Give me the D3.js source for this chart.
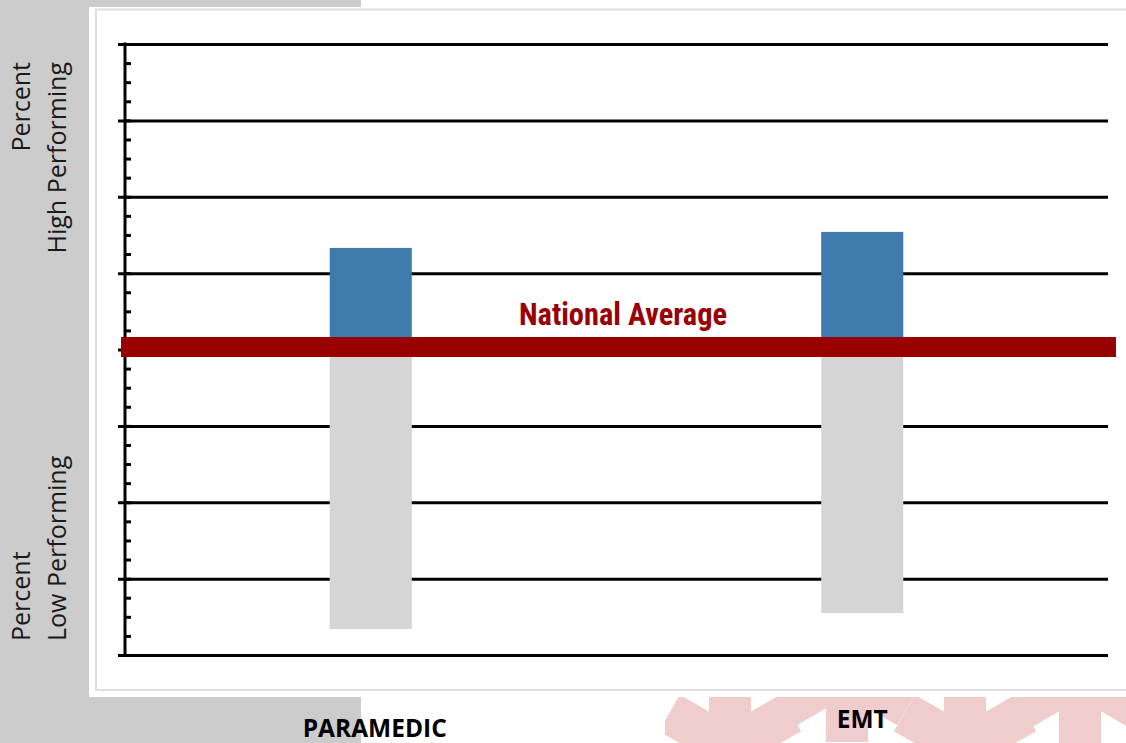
<!DOCTYPE html>
<html lang="en">
<head>
    <meta charset="UTF-8">
    <title>High vs Low Performing</title>
    <script src="https://d3js.org/d3.v7.min.js"></script>
    <style>
        body { margin: 0; background: #fff; }
        svg { display: block; }
    </style>
</head>
<body>
<div id="chart"></div>
<script>

//chart values
const categories = ["PARAMEDIC", "EMT"];
const highPerforming = [13.3, 15.4];   //percent above the national average
const lowPerforming = [36.6, 34.5];    //percent below it
const nationalAverage = 0;
const yTicks = [-40, -30, -20, -10, 0, 10, 20, 30, 40];

//pink star-of-life decoration in the bottom right corner
const decorStars = [[730, 748], [965, 748], [1200, 748], [847, 672], [1080, 675]];

const width = 1126, height = 743;

const svg = d3.select('#chart').append('svg')
    .attr('width', width)
    .attr('height', height);

//backgrounds
svg.append('rect').attr('width', width).attr('height', height).attr('fill', '#fff');
svg.append('rect').attr('width', 361).attr('height', height).attr('fill', '#cccccc');

//star decoration, clipped to the strip under the panel
svg.append('clipPath').attr('id', 'decor-clip')
    .append('rect').attr('x', 665).attr('y', 690).attr('width', 461).attr('height', 53);

const armLen = 70, armW = 42;
const decor = svg.append('g').attr('clip-path', 'url(#decor-clip)');
decorStars.forEach(([cx, cy]) => {
    [0, 60, 120].forEach(a => {
        decor.append('rect')
            .attr('x', -armW / 2).attr('y', -armLen)
            .attr('width', armW).attr('height', armLen * 2)
            .attr('fill', '#f0cdcd')
            .attr('transform', `translate(${cx},${cy}) rotate(${a})`);
    });
});

//white panel with its light border
svg.append('rect').attr('x', 89).attr('y', 7).attr('width', width - 89).attr('height', 690).attr('fill', '#fff');
svg.append('rect').attr('x', 96).attr('y', 9.5).attr('width', width).attr('height', 680.5)
    .attr('fill', 'none').attr('stroke', '#dedede').attr('stroke-width', 2);

const margin = {left: 125, right: 1108, top: 44, bottom: 655};

const x = d3.scaleBand()
    .domain(categories)
    .range([margin.left, margin.right])
    .paddingInner(0.833)
    .paddingOuter(0.4165);

const y = d3.scaleLinear()
    .domain([-40, 40])
    .range([margin.bottom, margin.top]);

//gridlines (they also make the major ticks left of the axis)
svg.append('g')
    .attr('transform', `translate(${margin.left - 7},0)`)
    .call(d3.axisRight(y).tickValues(yTicks).tickSize(margin.right - margin.left + 7).tickFormat(''))
    .call(g => g.select('.domain').remove())
    .call(g => g.selectAll('line').attr('stroke', '#000').attr('stroke-width', 3));

//minor ticks on the right of the axis
svg.append('g')
    .attr('transform', `translate(${margin.left},0)`)
    .call(d3.axisRight(y).tickValues(d3.range(-40, 40.1, 2.5)).tickSize(6).tickFormat(''))
    .call(g => g.select('.domain').remove())
    .call(g => g.selectAll('line').attr('stroke', '#000').attr('stroke-width', 3));

//axis line
svg.append('line')
    .attr('x1', margin.left).attr('x2', margin.left)
    .attr('y1', y(40) - 1.5).attr('y2', y(-40) + 1.5)
    .attr('stroke', '#000').attr('stroke-width', 3);

//low performing bars (grey, below the average)
svg.selectAll('.low').data(categories).join('rect')
    .attr('class', 'low')
    .attr('x', d => x(d))
    .attr('width', x.bandwidth())
    .attr('y', y(nationalAverage))
    .attr('height', (d, i) => y(-lowPerforming[i]) - y(nationalAverage))
    .attr('fill', '#d5d5d5');

//high performing bars (blue, above the average)
svg.selectAll('.high').data(categories).join('rect')
    .attr('class', 'high')
    .attr('x', d => x(d))
    .attr('width', x.bandwidth())
    .attr('y', (d, i) => y(highPerforming[i]))
    .attr('height', (d, i) => y(nationalAverage) - y(highPerforming[i]))
    .attr('fill', '#3e7aab');

//national average band
svg.append('rect')
    .attr('x', margin.left - 4).attr('width', 1116 - margin.left + 4)
    .attr('y', y(nationalAverage) - 12.5).attr('height', 20)
    .attr('fill', '#990000');

svg.append('text')
    .attr('x', 623).attr('y', y(nationalAverage) - 24.5)
    .attr('text-anchor', 'middle')
    .attr('textLength', 208).attr('lengthAdjust', 'spacingAndGlyphs')
    .style('font-family', '"Liberation Sans Narrow", "Roboto Condensed", "Liberation Sans", sans-serif')
    .style('font-weight', 'bold')
    .style('font-size', '32px')
    .attr('fill', '#990000')
    .text('National Average');

//category labels
const labelY = [737, 728];
svg.selectAll('.cat').data(categories).join('text')
    .attr('class', 'cat')
    .attr('x', (d, i) => x(d) + x.bandwidth() / 2 + (i === 0 ? 4 : 0))
    .attr('y', (d, i) => labelY[i])
    .attr('text-anchor', 'middle')
    .style('font-family', '"Open Sans", sans-serif')
    .style('font-weight', 'bold')
    .style('font-size', '24.5px')
    .attr('fill', '#000')
    .text(d => d);

//y axis titles
const titleFont = g => g.style('font-family', '"Open Sans", sans-serif').style('font-size', '25px').attr('fill', '#1a1a1a');

const topTitle = svg.append('g').call(titleFont);
[['Percent', 30], ['High Performing', 66]].forEach(([t, bx]) => {
    topTitle.append('text')
        .attr('transform', `translate(${bx},62) rotate(-90)`)
        .attr('text-anchor', 'end')
        .text(t);
});

const bottomTitle = svg.append('g').call(titleFont);
[['Percent', 30], ['Low Performing', 66]].forEach(([t, bx]) => {
    bottomTitle.append('text')
        .attr('transform', `translate(${bx},641) rotate(-90)`)
        .attr('text-anchor', 'start')
        .text(t);
});

</script>
</body>
</html>
